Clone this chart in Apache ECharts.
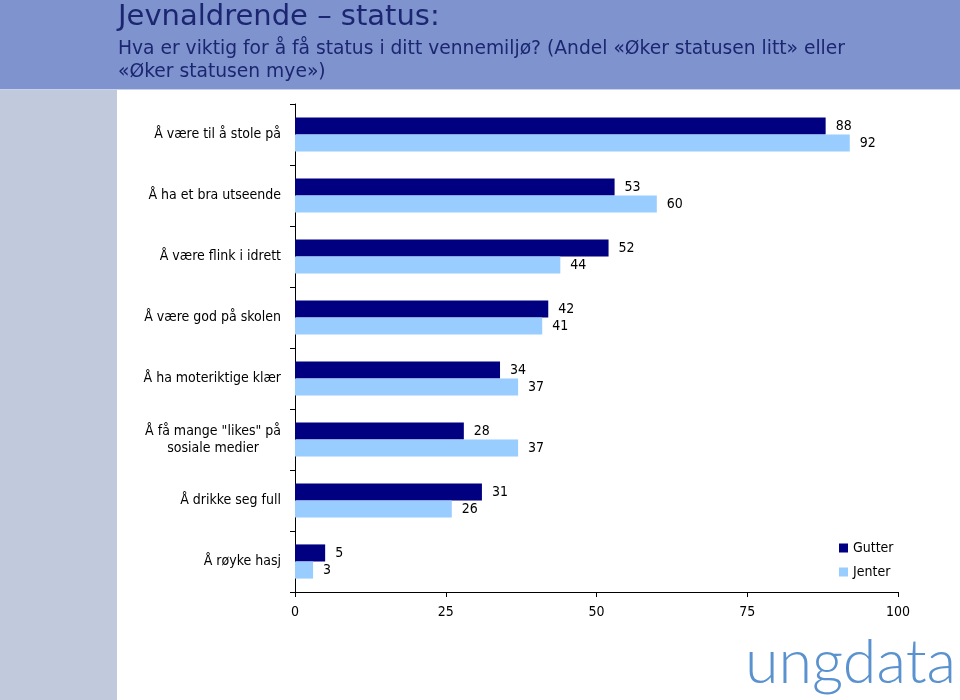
<!DOCTYPE html>
<html>
<head>
<meta charset="utf-8">
<script src="https://cdn.jsdelivr.net/npm/echarts@6/dist/echarts.min.js"></script>
<style>html,body{margin:0;padding:0;background:#fff;}#c{width:960px;height:700px;}</style>
</head>
<body>
<div id="c"></div>
<script>
const categories = [
  'Å være til å stole på',
  'Å ha et bra utseende',
  'Å være flink i idrett',
  'Å være god på skolen',
  'Å ha moteriktige klær',
  'Å få mange "likes" på\nsosiale medier',
  'Å drikke seg full',
  'Å røyke hasj'
];
const gutter = [88, 53, 52, 42, 34, 28, 31, 5];
const jenter = [92, 60, 44, 41, 37, 37, 26, 3];
const xTicks = [0, 25, 50, 75, 100];
const titleText = 'Jevnaldrende – status:';
const subtitleText = 'Hva er viktig for å få status i ditt vennemiljø? (Andel «Øker statusen litt» eller\n«Øker statusen mye»)';

const FONT = '"DejaVu Sans Condensed", "DejaVu Sans", Tahoma, sans-serif';
const HFONT = '"DejaVu Sans", Tahoma, sans-serif';
const chart = echarts.init(document.getElementById('c'), null, {renderer: 'canvas'});
chart.setOption({
  animation: false,
  backgroundColor: '#ffffff',
  textStyle: {fontFamily: FONT},
  graphic: [
    {type: 'rect', left: 0, top: 0, z: -10, shape: {width: 960, height: 89}, style: {fill: '#7F93CF'}},
    {type: 'rect', left: 0, top: 89, z: -10, shape: {width: 960, height: 1}, style: {fill: '#C9D1EC'}},
    {type: 'rect', left: 0, top: 90, z: -10, shape: {width: 117, height: 610}, style: {fill: '#C0CADC'}},
    {type: 'text', left: 118, top: 3, z: 10, style: {text: titleText, fill: '#1C2670', font: '29px ' + HFONT}},
    {type: 'text', left: 118, top: 38, z: 10, style: {text: subtitleText, fill: '#1C2670', font: '18.7px ' + HFONT, lineHeight: 23}},
    {type: 'text', left: 745, top: 633, z: 10, style: {text: 'ungdata', fill: '#5A92D0', font: '300 61px Lato, "Open Sans", sans-serif'}}
  ],
  grid: {left: 295, right: 62, top: 104, bottom: 108, containLabel: false},
  legend: {
    orient: 'vertical', left: 834, top: 536, itemWidth: 9, itemHeight: 9, itemGap: 10,
    icon: 'rect', textStyle: {fontSize: 14, color: '#000', fontFamily: FONT},
    data: ['Gutter', 'Jenter']
  },
  xAxis: {
    type: 'value', min: 0, max: 100, interval: 25,
    axisLine: {show: true, lineStyle: {color: '#000', width: 1}},
    axisTick: {show: true, length: 5, lineStyle: {color: '#000'}},
    splitLine: {show: false},
    axisLabel: {fontSize: 14, color: '#000', margin: 13, fontFamily: FONT,
      formatter: v => xTicks.includes(v) ? String(v) : ''}
  },
  yAxis: {
    type: 'category', inverse: true, data: categories,
    axisLine: {show: true, lineStyle: {color: '#000', width: 1}},
    axisTick: {show: true, length: 5, lineStyle: {color: '#000'}},
    axisLabel: {
      fontSize: 14, color: '#000', margin: 14, fontFamily: FONT,
      formatter: v => v.split('\n').map(l => '{c|' + l + '}').join('\n'),
      rich: {c: {align: 'center', fontSize: 14, lineHeight: 17, fontFamily: FONT, color: '#000'}}
    }
  },
  series: [
    {name: 'Gutter', type: 'bar', data: gutter, barGap: '0%', barCategoryGap: '44%',
      itemStyle: {color: '#000080'},
      label: {show: true, position: 'right', distance: 10, fontSize: 14, color: '#000', fontFamily: FONT}},
    {name: 'Jenter', type: 'bar', data: jenter, barGap: '0%', barCategoryGap: '44%',
      itemStyle: {color: '#99CCFF'},
      label: {show: true, position: 'right', distance: 10, fontSize: 14, color: '#000', fontFamily: FONT}}
  ]
});
</script>
</body>
</html>
